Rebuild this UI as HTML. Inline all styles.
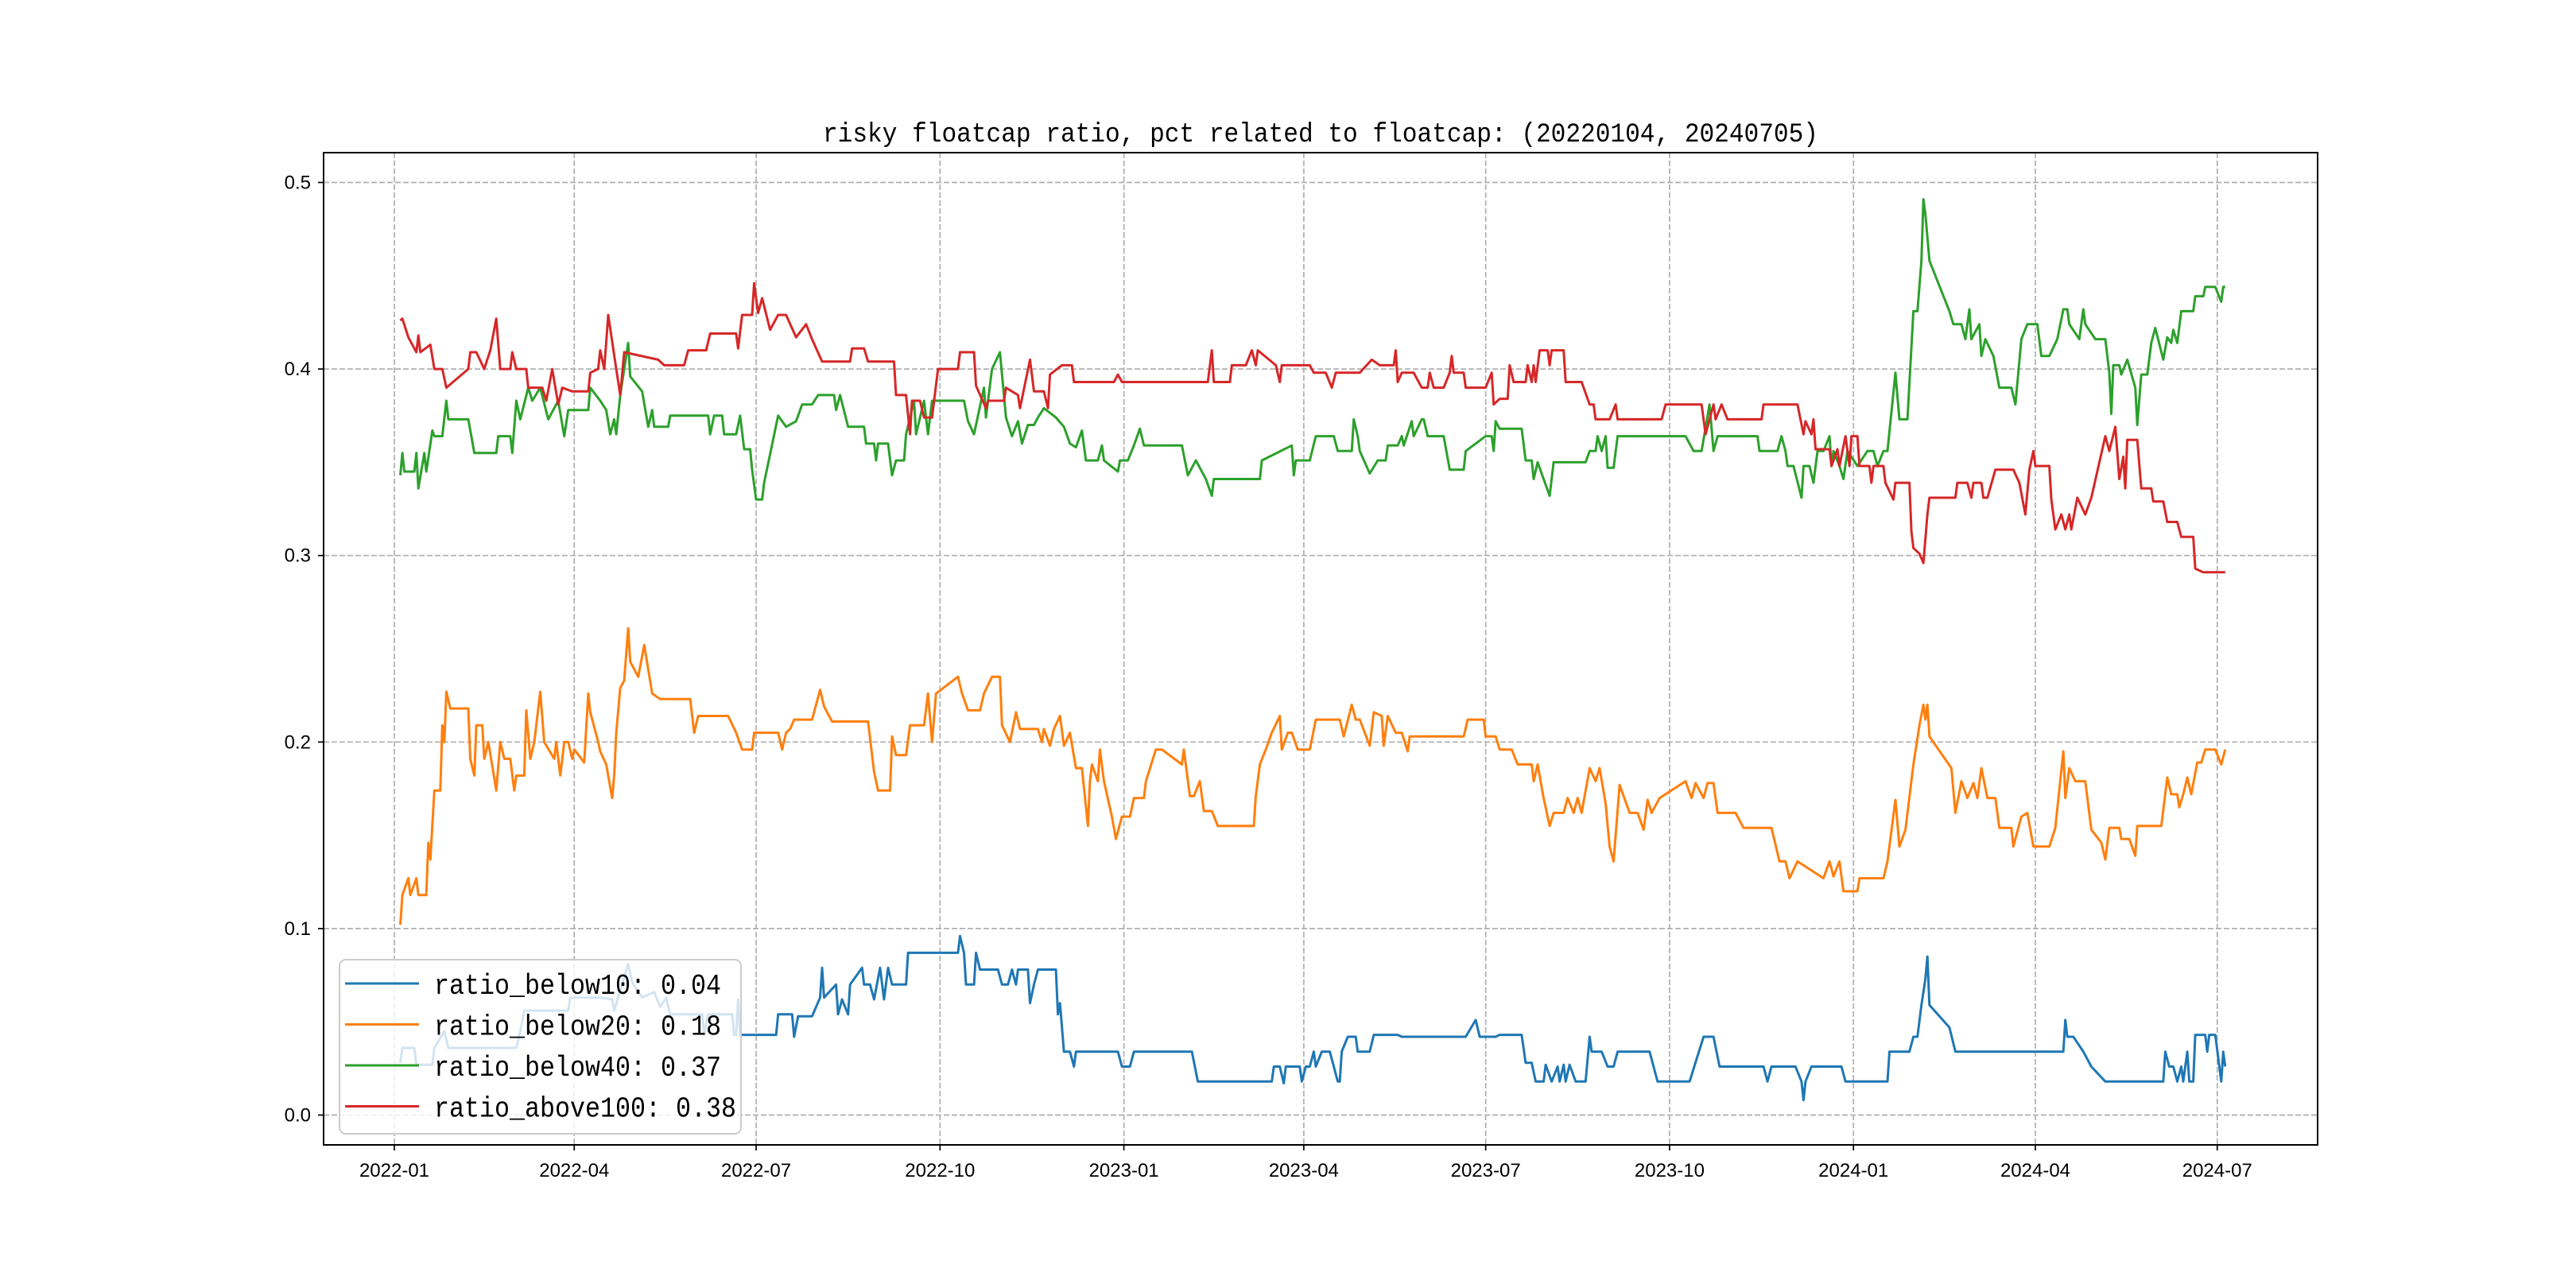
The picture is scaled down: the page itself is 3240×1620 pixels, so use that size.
<!DOCTYPE html>
<html><head><meta charset="utf-8"><style>
html,body{margin:0;padding:0;background:#fff;}
svg{display:block;}
text{font-family:"Liberation Sans","Noto Sans CJK SC",sans-serif;}
</style></head><body>
<svg id="chart" width="3240" height="1620" viewBox="0 0 3240 1620" xmlns="http://www.w3.org/2000/svg">
<rect x="0" y="0" width="3240" height="1620" fill="#fff"/>
<text x="1661" y="178" text-anchor="middle" font-size="34" textLength="1252" lengthAdjust="spacingAndGlyphs" style="font-family:'Liberation Mono',monospace">risky floatcap ratio, pct related to floatcap: (20220104, 20240705)</text>
<g id="grid"></g><g id="series"></g><g id="axes"></g><g id="legend"></g>
</svg>
<script>
const xTickDays=[0,90,181,273,365,455,546,638,730,821,912];
const xTickLabels=["2022-01","2022-04","2022-07","2022-10","2023-01","2023-04","2023-07","2023-10","2024-01","2024-04","2024-07"];
const yTicks=[0,0.1,0.2,0.3,0.4,0.5];
const yTickLabels=["0.0","0.1","0.2","0.3","0.4","0.5"];
const seriesNames=["ratio_below10: 0.04","ratio_below20: 0.18","ratio_below40: 0.37","ratio_above100: 0.38"];
const below10=[3,.028,4,.036,10,.036,11,.027,19,.027,20,.036,25,.045,27,.036,61,.036,63,.045,65,.056,87,.056,88,.063,103,.063,109,.062,110,.056,117,.081,119,.071,124,.063,130,.066,133,.058,136,.063,138,.054,154,.054,155,.043,157,.054,169,.054,170,.043,171,.043,172,.062,173,.043,191,.043,192,.054,199,.054,200,.042,202,.053,209,.053,213,.063,214,.079,215,.063,221,.070,222,.054,224,.062,227,.054,228,.070,234,.079,235,.070,238,.070,240,.062,243,.079,245,.062,247,.079,249,.070,256,.070,257,.087,282,.087,283,.096,285,.087,286,.070,290,.070,291,.087,293,.078,302,.078,304,.070,307,.070,309,.078,311,.070,312,.078,317,.078,318,.060,320,.070,322,.078,331,.078,332,.054,333,.060,335,.034,338,.034,340,.026,341,.034,362,.034,364,.026,368,.026,370,.034,399,.034,402,.018,439,.018,440,.026,443,.026,445,.017,446,.026,453,.026,454,.018,456,.026,458,.026,460,.034,461,.026,464,.034,468,.034,470,.026,472,.018,473,.018,474,.034,477,.042,481,.042,482,.034,488,.034,490,.043,502,.043,504,.042,536,.042,541,.051,543,.042,551,.042,553,.043,564,.043,566,.028,569,.028,571,.018,575,.018,576,.027,579,.018,582,.026,583,.018,585,.027,586,.018,588,.027,591,.018,596,.018,598,.042,599,.034,604,.034,607,.026,610,.026,612,.034,628,.034,632,.018,648,.018,655,.042,660,.042,663,.026,685,.026,687,.018,689,.026,701,.026,704,.018,705,.008,706,.018,709,.026,724,.026,726,.018,747,.018,748,.034,758,.034,760,.042,762,.042,764,.059,766,.073,767,.085,768,.059,778,.047,781,.034,835,.034,836,.051,837,.042,840,.042,845,.034,849,.026,856,.018,885,.018,886,.034,888,.026,890,.026,892,.018,894,.026,895,.018,897,.034,898,.018,900,.018,901,.043,906,.043,907,.034,908,.043,911,.043,914,.018,915,.034,916,.026];
const below20=[3,.102,4,.118,7,.127,8,.118,11,.127,12,.118,16,.118,17,.146,18,.137,20,.174,23,.174,24,.209,25,.200,26,.227,28,.218,37,.218,38,.191,40,.182,41,.209,44,.209,45,.191,47,.200,51,.174,53,.200,55,.191,58,.191,60,.174,61,.182,65,.182,66,.217,68,.191,70,.200,73,.227,75,.200,80,.191,81,.200,83,.182,85,.200,87,.200,89,.191,90,.196,95,.189,97,.226,98,.216,102,.200,103,.195,106,.188,109,.170,110,.182,111,.205,113,.229,115,.233,117,.261,118,.243,122,.235,125,.252,129,.226,133,.223,148,.223,150,.205,152,.214,167,.214,171,.205,174,.196,179,.196,180,.205,192,.205,194,.196,196,.205,198,.207,200,.212,209,.212,213,.228,215,.219,219,.211,237,.211,240,.184,242,.174,248,.174,249,.203,251,.193,256,.193,258,.209,265,.209,267,.226,269,.200,271,.226,282,.235,284,.226,287,.217,293,.217,295,.226,299,.235,303,.235,304,.209,308,.200,311,.216,313,.207,322,.207,324,.200,325,.207,328,.198,330,.207,333,.214,335,.198,338,.205,341,.186,344,.186,347,.155,348,.179,349,.188,352,.179,353,.196,355,.179,359,.160,361,.148,364,.160,368,.160,370,.170,375,.170,376,.179,381,.196,384,.196,394,.188,395,.196,398,.171,400,.171,403,.179,405,.163,409,.163,412,.155,430,.155,431,.171,433,.188,436,.196,439,.205,443,.214,444,.196,447,.205,449,.205,452,.196,453,.196,458,.196,461,.212,473,.212,475,.203,479,.220,481,.212,483,.212,488,.198,490,.216,494,.214,495,.198,497,.214,501,.205,504,.205,507,.195,508,.203,535,.203,537,.212,545,.212,546,.203,551,.203,553,.196,559,.196,562,.188,569,.188,570,.179,572,.188,575,.170,578,.155,580,.162,585,.162,587,.170,590,.162,592,.170,594,.162,598,.186,601,.179,603,.186,606,.167,608,.144,610,.136,613,.177,618,.162,622,.162,625,.153,627,.169,629,.162,633,.170,646,.179,649,.170,651,.178,655,.170,657,.178,660,.178,662,.162,671,.162,675,.154,689,.154,693,.136,696,.136,698,.127,702,.136,715,.127,718,.136,720,.128,723,.136,725,.120,732,.120,733,.127,745,.127,747,.136,751,.169,753,.144,756,.153,760,.188,763,.209,765,.220,766,.212,767,.220,768,.203,779,.186,781,.162,784,.179,787,.170,790,.178,792,.170,794,.186,797,.170,801,.170,803,.154,809,.154,810,.144,814,.160,817,.162,820,.144,828,.144,831,.154,835,.195,836,.170,838,.186,841,.179,846,.179,849,.153,854,.146,856,.137,858,.154,863,.154,864,.148,868,.148,871,.139,872,.155,884,.155,887,.181,889,.172,892,.172,893,.165,895,.172,897,.181,899,.172,902,.189,904,.189,906,.196,911,.196,914,.188,916,.196];
const below40=[3,.343,4,.355,5,.345,10,.345,11,.355,12,.336,15,.355,16,.345,19,.367,20,.364,24,.364,26,.383,27,.373,37,.373,40,.355,51,.355,52,.364,58,.364,59,.355,61,.383,63,.373,67,.390,69,.383,73,.390,77,.373,82,.383,85,.364,87,.378,97,.378,98,.390,103,.383,106,.378,108,.365,110,.373,111,.365,113,.386,117,.414,118,.396,124,.388,127,.369,129,.378,130,.369,137,.369,138,.375,157,.375,158,.365,160,.375,164,.375,165,.365,171,.365,173,.375,175,.357,178,.357,179,.346,181,.330,184,.330,185,.339,192,.375,196,.369,201,.372,204,.381,209,.381,212,.386,220,.386,221,.378,223,.386,227,.369,235,.369,236,.360,240,.360,241,.351,242,.360,247,.360,249,.343,251,.351,255,.351,256,.365,260,.383,261,.365,265,.383,267,.365,269,.383,285,.383,287,.372,290,.365,295,.390,296,.374,299,.400,303,.409,306,.374,309,.364,312,.372,314,.360,317,.370,320,.370,322,.374,325,.379,331,.374,335,.369,338,.360,341,.358,344,.367,346,.351,352,.351,354,.359,355,.351,362,.345,363,.351,367,.351,370,.359,373,.368,375,.359,394,.359,397,.343,401,.351,406,.341,409,.332,410,.341,433,.341,434,.351,449,.359,450,.343,451,.351,453,.351,458,.351,461,.364,470,.364,472,.356,479,.356,480,.373,482,.364,483,.356,488,.344,492,.351,496,.351,497,.359,502,.359,504,.364,505,.359,509,.372,510,.364,514,.373,515,.373,517,.364,525,.364,528,.346,535,.346,536,.356,546,.364,549,.364,550,.356,551,.372,553,.368,564,.368,566,.351,569,.351,570,.341,572,.350,575,.341,578,.332,580,.350,596,.350,598,.356,601,.356,602,.364,604,.356,606,.364,607,.347,610,.347,612,.364,646,.364,650,.356,654,.356,658,.381,660,.356,662,.364,682,.364,683,.356,692,.356,694,.364,696,.356,697,.348,700,.348,704,.331,705,.348,708,.348,710,.339,712,.356,715,.356,718,.364,719,.348,720,.356,723,.348,725,.341,727,.356,732,.348,737,.356,740,.356,742,.348,745,.356,747,.356,751,.398,753,.373,757,.373,760,.431,762,.431,764,.458,765,.491,766,.483,768,.458,778,.431,780,.424,784,.424,786,.416,788,.432,789,.416,793,.424,794,.407,796,.416,800,.407,803,.390,809,.390,811,.381,814,.416,817,.424,822,.424,824,.407,828,.407,832,.416,835,.432,837,.432,838,.424,843,.416,845,.432,846,.424,851,.416,856,.416,858,.398,859,.376,860,.402,863,.402,864,.397,867,.405,871,.390,872,.370,874,.397,877,.397,879,.414,881,.422,885,.405,887,.417,889,.414,890,.421,892,.414,894,.431,900,.431,901,.439,905,.439,906,.444,911,.444,914,.436,915,.444,916,.444];
const above100=[3,.426,4,.427,7,.417,11,.409,12,.418,13,.409,18,.413,20,.400,24,.400,26,.390,37,.400,38,.409,41,.409,45,.400,48,.410,51,.427,53,.400,58,.400,59,.409,61,.400,66,.400,67,.390,74,.390,76,.383,79,.400,82,.381,84,.390,89,.388,97,.388,98,.398,102,.400,103,.410,105,.400,107,.429,111,.400,113,.386,115,.409,132,.405,135,.402,145,.402,147,.410,156,.410,158,.419,171,.419,172,.411,174,.429,179,.429,180,.446,182,.430,184,.438,188,.421,192,.429,196,.429,201,.417,206,.424,209,.416,214,.404,228,.404,229,.411,235,.411,237,.404,250,.404,251,.386,256,.386,258,.365,259,.383,263,.383,265,.374,269,.374,272,.400,282,.400,283,.409,290,.409,291,.391,296,.379,297,.383,305,.383,306,.390,312,.386,313,.379,318,.405,320,.388,325,.388,327,.379,328,.397,334,.402,339,.402,340,.393,360,.393,362,.397,364,.393,407,.393,409,.410,410,.393,418,.393,419,.402,426,.402,429,.410,431,.402,432,.410,441,.402,443,.393,444,.402,458,.402,460,.398,466,.398,469,.390,471,.398,483,.398,489,.405,493,.402,500,.402,501,.410,502,.393,504,.398,510,.398,514,.390,517,.390,518,.398,520,.390,525,.390,528,.398,529,.407,530,.398,535,.398,536,.390,546,.390,549,.398,550,.381,553,.384,557,.384,558,.402,560,.393,566,.393,567,.402,569,.393,570,.402,571,.393,573,.410,577,.410,578,.402,579,.410,585,.410,586,.393,594,.393,598,.381,600,.381,601,.373,608,.373,611,.381,612,.373,634,.373,636,.381,654,.381,656,.365,660,.381,661,.373,664,.381,667,.373,684,.373,685,.381,702,.381,705,.365,706,.372,709,.365,710,.373,711,.357,718,.357,719,.348,722,.357,723,.348,726,.364,728,.348,729,.364,732,.364,733,.348,738,.348,739,.339,740,.348,745,.348,746,.339,750,.330,751,.339,758,.339,759,.313,760,.304,763,.301,765,.296,767,.322,768,.331,781,.331,782,.339,787,.339,789,.331,790,.339,794,.339,795,.331,797,.331,801,.346,810,.346,813,.339,816,.322,818,.346,820,.356,821,.348,828,.348,829,.330,831,.314,834,.322,836,.314,838,.322,839,.314,842,.331,846,.322,849,.331,856,.364,858,.356,861,.369,863,.341,865,.353,866,.336,867,.362,872,.362,874,.336,879,.336,880,.329,885,.329,887,.318,892,.318,894,.310,900,.310,901,.293,905,.291,916,.291];
const seriesColors=["#1f77b4","#ff7f0e","#2ca02c","#d62728"];

const NS="http://www.w3.org/2000/svg";
const AX={l:407,r:2915,t:192,b:1440};
const X0=496, PXD=2.514;
const Y0=1402.5, PXU=2346;
function xs(d){return X0+d*PXD;}
function ys(v){return Y0-v*PXU;}
function mk(tag,attrs,parent){const e=document.createElementNS(NS,tag);for(const k in attrs)e.setAttribute(k,attrs[k]);parent.appendChild(e);return e;}

const grid=document.getElementById('grid'),axes=document.getElementById('axes'),ser=document.getElementById('series'),leg=document.getElementById('legend');
xTickDays.forEach((d,i)=>{
  const x=xs(d);
  const g=mk('line',{x1:x,x2:x,y1:AX.t,y2:AX.b,stroke:'#b0b0b0','stroke-width':1.7,'stroke-dasharray':'7,3'},grid);
  
  
  const t=mk('line',{x1:x,x2:x,y1:AX.b,y2:AX.b+7,stroke:'#000','stroke-width':1.7},axes);
  
  
  const lb=mk('text',{x:x,y:AX.b+40,'text-anchor':'middle','font-size':24},axes);
  lb.textContent=xTickLabels[i];
  
  
});
yTicks.forEach((v,i)=>{
  const y=ys(v);
  const g=mk('line',{x1:AX.l,x2:AX.r,y1:y,y2:y,stroke:'#b0b0b0','stroke-width':1.7,'stroke-dasharray':'7,3'},grid);
  
  
  const t=mk('line',{x1:AX.l-7,x2:AX.l,y1:y,y2:y,stroke:'#000','stroke-width':1.7},axes);
  
  
  const lb=mk('text',{x:AX.l-16,y:y+8,'text-anchor':'end','font-size':24},axes);
  lb.textContent=yTickLabels[i];
  
  
});
const frame=mk('rect',{x:AX.l,y:AX.t,width:AX.r-AX.l,height:AX.b-AX.t,fill:'none',stroke:'#000','stroke-width':2},axes);



const allSeries=[below10,below20,below40,above100];
const seriesIds=['series-ratio-below10','series-ratio-below20','series-ratio-below40','series-ratio-above100'];
allSeries.forEach((arr,si)=>{
  let pts=[];
  for(let i=0;i<arr.length;i+=2)pts.push(xs(arr[i]).toFixed(1)+','+ys(arr[i+1]).toFixed(1));
  const p=mk('polyline',{points:pts.join(' '),fill:'none',stroke:seriesColors[si],'stroke-width':3,'stroke-linejoin':'round'},ser);
  
  
});

const box=mk('rect',{x:427,y:1207,width:505,height:219,rx:8,fill:'#fff','fill-opacity':0.8,stroke:'#cccccc','stroke-width':2},leg);


seriesNames.forEach((n,i)=>{
  const y=1237+i*51.5;
  const ln=mk('line',{x1:434,x2:527,y1:y,y2:y,stroke:seriesColors[i],'stroke-width':3},leg);
  
  
  const t=mk('text',{x:546,y:y+13,'font-size':36,textLength:n.length*19,lengthAdjust:'spacingAndGlyphs',style:"font-family:'Liberation Mono',monospace"},leg);
  t.textContent=n;
  
  
});
</script>
</body></html>
